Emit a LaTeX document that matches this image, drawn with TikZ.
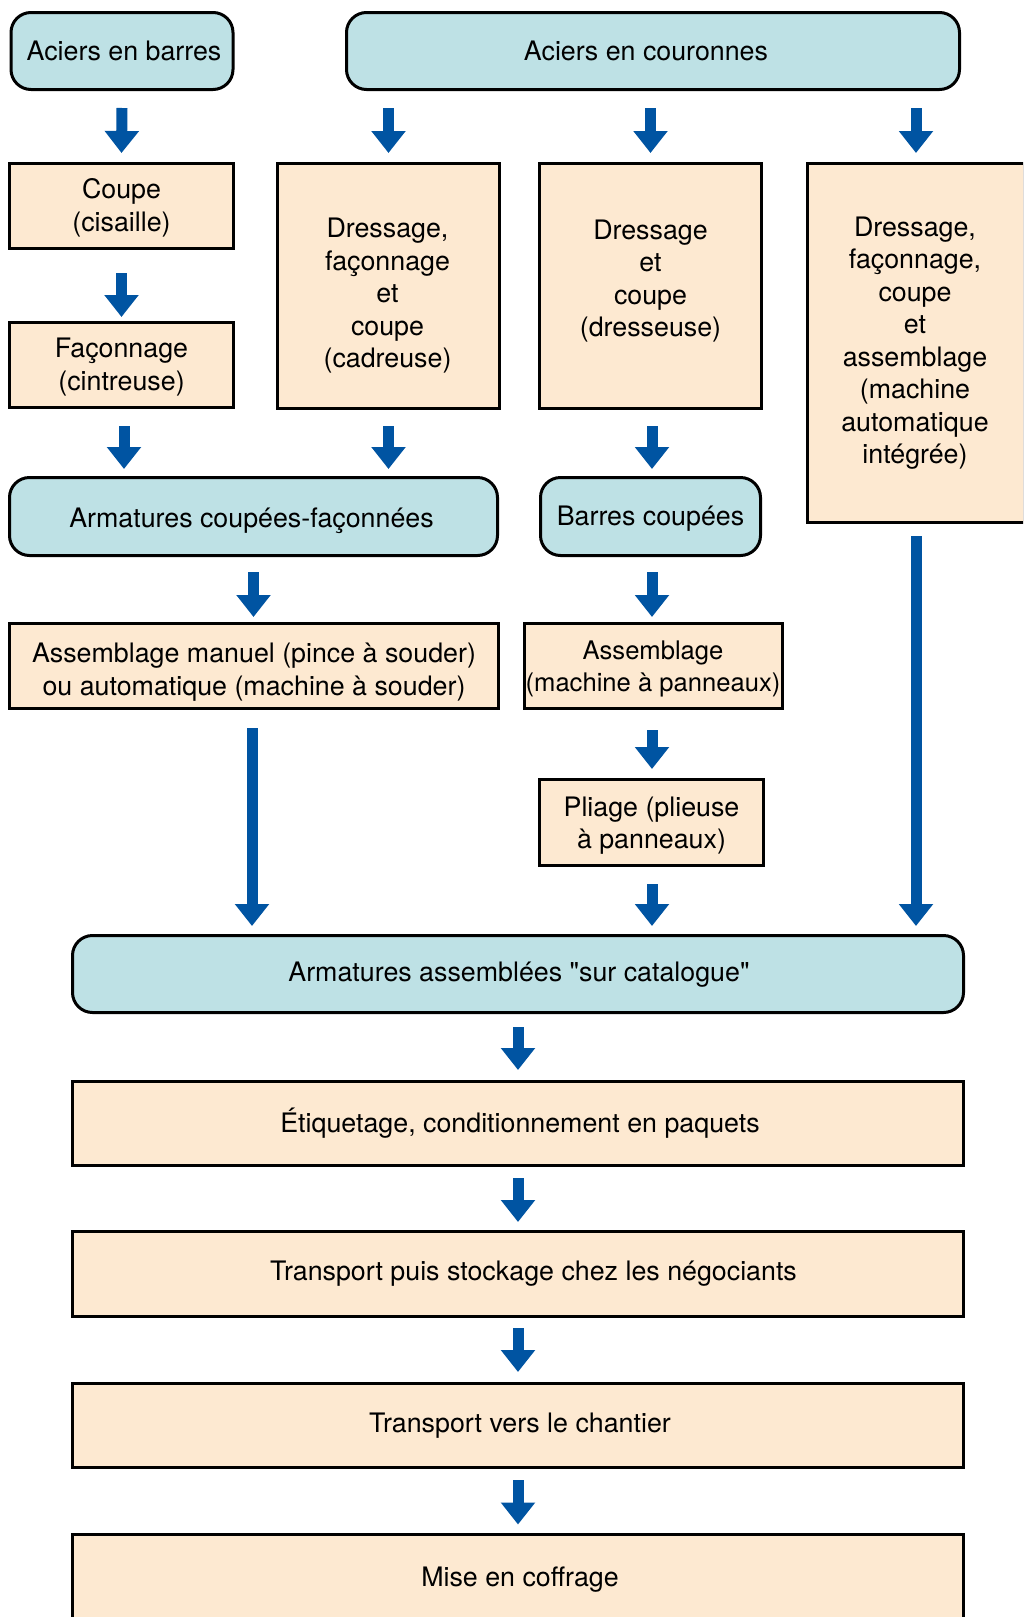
\documentclass[tikz,border=0pt]{standalone}
\usepackage{fontspec}
\setmainfont{TeX Gyre Heros}[Ligatures=TeXOff]
\usetikzlibrary{arrows.meta,calc}
\definecolor{boxblue}{HTML}{BEE1E5}
\definecolor{boxpeach}{HTML}{FDE9D1}
\definecolor{arrowblue}{HTML}{0054A2}
\tikzset{
  base/.style={draw=black,line width=3pt,inner sep=0pt},
  bluebox/.style={base,fill=boxblue,rounded corners=20pt},
  peachbox/.style={base,fill=boxpeach},
  lbl/.style={align=center,inner sep=0pt,
    font=\fontsize{26.8}{32.5}\selectfont},
  barrow/.style={draw=arrowblue,line width=11pt,
    -{Triangle[width=33pt,length=22pt]}},
}
\begin{document}
\begin{tikzpicture}[x=1pt,y=1pt]
\useasboundingbox (0,0) rectangle (1023,-1617);
\clip (0,0) rectangle (1023,-1617);
\fill[white] (0,0) rectangle (1023,-1617);
% boxes
\node[bluebox,minimum width=222pt,minimum height=77pt] (barres) at (122,-51) {};
\node[bluebox,minimum width=613pt,minimum height=77pt] (cour) at (653,-51) {};
\node[peachbox,minimum width=224pt,minimum height=85pt] (coupe) at (121.5,-206) {};
\node[peachbox,minimum width=222pt,minimum height=245pt] (cad) at (388.5,-286) {};
\node[peachbox,minimum width=222pt,minimum height=245pt] (dres) at (650.5,-286) {};
\node[peachbox,minimum width=217pt,minimum height=359pt] (integ) at (916,-343) {};
\node[peachbox,minimum width=224pt,minimum height=85pt] (fac) at (121.5,-365) {};
\node[bluebox,minimum width=488pt,minimum height=78pt] (armcf) at (253.5,-516.5) {};
\node[bluebox,minimum width=220pt,minimum height=78pt] (barc) at (650.5,-516.5) {};
\node[peachbox,minimum width=489pt,minimum height=85pt] (assman) at (254,-666) {};
\node[peachbox,minimum width=258pt,minimum height=85pt] (assmach) at (653,-666) {};
\node[peachbox,minimum width=224pt,minimum height=86pt] (pli) at (651.5,-822.5) {};
\node[bluebox,minimum width=891pt,minimum height=77pt] (armas) at (518,-974) {};
\node[peachbox,minimum width=891pt,minimum height=84pt] (etiq) at (518,-1123.5) {};
\node[peachbox,minimum width=891pt,minimum height=85pt] (tr1) at (518,-1274) {};
\node[peachbox,minimum width=891pt,minimum height=84pt] (tr2) at (518,-1425.5) {};
\node[peachbox,minimum width=891pt,minimum height=86pt] (mise) at (518,-1577) {};
% texts
\node[lbl] (tbarres) at ([xshift=2pt]barres.center) {Aciers en barres};
\node[lbl] (tcour) at ([xshift=-7pt]cour.center) {Aciers en couronnes};
\node[lbl] (tcoupe) at ([yshift=-2pt]coupe.center) {Coupe\\(cisaille)};
\node[lbl] (tcad) at ([xshift=-1pt,yshift=-10pt]cad.center) {Dressage,\\façonnage\\et\\coupe\\(cadreuse)};
\node[lbl] (tdres) at ([yshift=5pt]dres.center) {Dressage\\et\\coupe\\(dresseuse)};
\node[lbl] (tinteg) at ([xshift=-1pt]integ.center) {Dressage,\\façonnage,\\coupe\\et\\assemblage\\(machine\\automatique\\intégrée)};
\node[lbl] (tfac) at ([yshift=-2pt]fac.center) {Façonnage\\(cintreuse)};
\node[lbl] (tarmcf) at ([xshift=-2pt,yshift=-4pt]armcf.center) {Armatures coupées-façonnées};
\node[lbl] (tbarc) at ([yshift=-2pt]barc.center) {Barres coupées};
\node[lbl] (tassman) at ([yshift=-6pt]assman.center) {Assemblage manuel (pince à souder)\\ou automatique (machine à souder)};
\node[lbl,font=\fontsize{25.6}{32.5}\selectfont] (tassmach) at ([yshift=-3pt]assmach.center) {Assemblage\\(machine à panneaux)};
\node[lbl] (tpli) at ([yshift=-3pt]pli.center) {Pliage (plieuse\\à panneaux)};
\node[lbl] (tarmas) at ([xshift=1pt,yshift=-1pt]armas.center) {Armatures assemblées "sur catalogue"};
\node[lbl] (tetiq) at ([xshift=2pt]etiq.center) {Étiquetage, conditionnement en paquets};
\node[lbl] (ttr1) at ([xshift=15.5pt]tr1.center) {Transport puis stockage chez les négociants};
\node[lbl] (ttr2) at ([xshift=2pt]tr2.center) {Transport vers le chantier};
\node[lbl] (tmise) at ([xshift=2pt,yshift=-3pt]mise.center) {Mise en coffrage};
% arrows
\draw[barrow] ([yshift=-17pt]barres.south) -- ([yshift=9pt]coupe.north);
\draw[barrow] ([yshift=-17pt]cad.north |- cour.south) -- ([yshift=9pt]cad.north);
\draw[barrow] ([yshift=-17pt]dres.north |- cour.south) -- ([yshift=9pt]dres.north);
\draw[barrow] ([yshift=-17pt]integ.north |- cour.south) -- ([yshift=9pt]integ.north);
\draw[barrow] ([yshift=-23pt]coupe.south) -- ([yshift=4pt]fac.north);
\draw[barrow] ([xshift=2.5pt,yshift=-17pt]fac.south) -- ([xshift=2.5pt,yshift=7pt]fac.south |- armcf.north);
\draw[barrow] ([yshift=-16pt]cad.south) -- ([yshift=7pt]cad.south |- armcf.north);
\draw[barrow] ([xshift=1.5pt,yshift=-16pt]dres.south) -- ([xshift=1.5pt,yshift=7pt]dres.south |- barc.north);
\draw[barrow] ([yshift=-15pt]armcf.south) -- ([yshift=5pt]armcf.south |- assman.north);
\draw[barrow] ([xshift=1.5pt,yshift=-15pt]barc.south) -- ([xshift=1.5pt,yshift=5pt]barc.south |- assmach.north);
\draw[barrow] ([xshift=-2pt,yshift=-18pt]assman.south) -- ([xshift=-2pt,yshift=8pt]assman.south |- armas.north);
\draw[barrow] ([xshift=-1pt,yshift=-20pt]assmach.south) -- ([xshift=-1pt,yshift=9pt]assmach.south |- pli.north);
\draw[barrow] ([xshift=0.5pt,yshift=-17pt]pli.south) -- ([xshift=0.5pt,yshift=8pt]pli.south |- armas.north);
\draw[barrow] ([yshift=-12pt]integ.south) -- ([yshift=8pt]integ.south |- armas.north);
\draw[barrow] ([yshift=-13pt]armas.south) -- ([yshift=10pt]etiq.north);
\draw[barrow] ([yshift=-11pt]etiq.south) -- ([yshift=8pt]tr1.north);
\draw[barrow] ([yshift=-10pt]tr1.south) -- ([yshift=10pt]tr2.north);
\draw[barrow] ([yshift=-11pt]tr2.south) -- ([yshift=8pt]mise.north);
\end{tikzpicture}
\end{document}
